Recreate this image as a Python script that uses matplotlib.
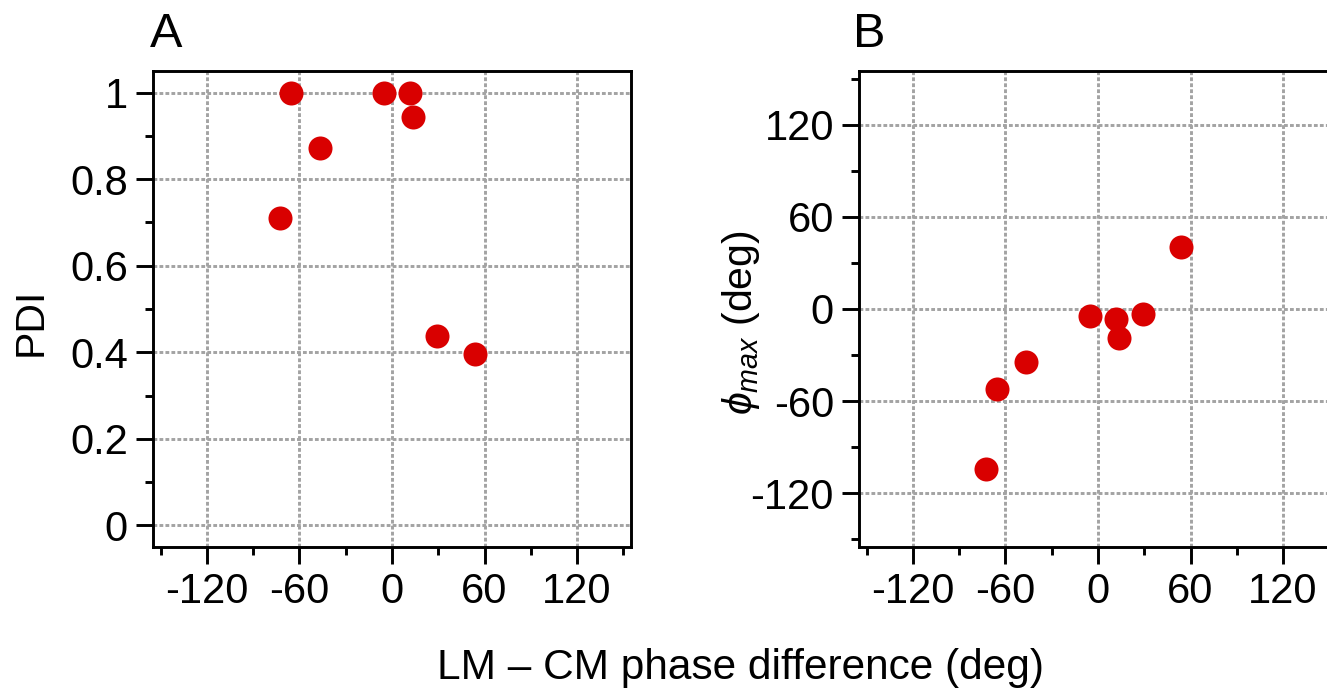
import matplotlib
matplotlib.use("Agg")
import matplotlib.pyplot as plt
from matplotlib.ticker import FixedLocator

plt.rcParams['font.family'] = ['Liberation Sans', 'DejaVu Sans']
plt.rcParams['mathtext.fontset'] = 'custom'
plt.rcParams['mathtext.rm'] = 'Liberation Sans'
plt.rcParams['mathtext.it'] = 'Liberation Sans:italic'

# Data
phase_diff = [-72.8, -65.6, -46.9, -5.4, 11.9, 13.8, 29.3, 53.6]
pdi = [0.71, 1.0, 0.871, 1.0, 1.0, 0.944, 0.438, 0.395]
phi_max = [-104.3, -52.2, -34.6, -4.8, -6.5, -18.9, -3.3, 40.2]

x_ticks = [-120, -60, 0, 60, 120]
x_ticklabels = ['-120', '-60', '0', '60', '120']
x_minor = [-150, -90, -30, 30, 90, 150]
pdi_ticks = [0, 0.2, 0.4, 0.6, 0.8, 1.0]
pdi_ticklabels = ['0', '0.2', '0.4', '0.6', '0.8', '1']
pdi_minor = [0.1, 0.3, 0.5, 0.7, 0.9]
phi_ticks = [-120, -60, 0, 60, 120]
phi_ticklabels = ['-120', '-60', '0', '60', '120']
phi_minor = [-150, -90, -30, 30, 90, 150]

W, H = 1327, 693
fig = plt.figure(figsize=(W / 100, H / 100), dpi=100)

red = '#d90000'
fs_tick = 30
fs_label = 29.5

def style(ax):
    for s in ax.spines.values():
        s.set_linewidth(2.1)
    ax.tick_params(which='major', direction='out', length=12, width=2.1,
                   labelsize=fs_tick, pad=6)
    ax.tick_params(which='minor', direction='out', length=6, width=2.1)
    ax.grid(True, which='major', color='#a3a3a3', linestyle=(0, (1.3, 0.75)),
            linewidth=2.1)
    ax.set_axisbelow(True)

left_a, right_a = 153, 631
top, bottom = 71, 547
axA = fig.add_axes([left_a / W, (H - bottom) / H, (right_a - left_a) / W, (bottom - top) / H])
left_b = 859
axB = fig.add_axes([left_b / W, (H - bottom) / H, (right_a - left_a) / W, (bottom - top) / H])

# Panel A
axA.plot(phase_diff, pdi, 'o', color=red, markersize=17.3, markeredgewidth=0, zorder=3)
axA.set_xlim(-155, 155)
axA.set_ylim(-0.05, 1.05)
axA.set_xticks(x_ticks)
axA.set_xticklabels(x_ticklabels)
axA.xaxis.set_minor_locator(FixedLocator(x_minor))
axA.set_yticks(pdi_ticks)
axA.set_yticklabels(pdi_ticklabels)
axA.yaxis.set_minor_locator(FixedLocator(pdi_minor))
style(axA)

# Panel B
axB.plot(phase_diff, phi_max, 'o', color=red, markersize=17.3, markeredgewidth=0, zorder=3)
axB.set_xlim(-155, 155)
axB.set_ylim(-155, 155)
axB.set_xticks(x_ticks)
axB.set_xticklabels(x_ticklabels)
axB.xaxis.set_minor_locator(FixedLocator(x_minor))
axB.set_yticks(phi_ticks)
axB.set_yticklabels(phi_ticklabels)
axB.yaxis.set_minor_locator(FixedLocator(phi_minor))
style(axB)

fig.text(30.5 / W, 1 - 322 / H, 'PDI', fontsize=fs_label, rotation=90,
         ha='center', va='center')
fig.text(741 / W, 1 - 323 / H, r'$\phi_{max}$ (deg)', fontsize=fs_label, rotation=90,
         ha='center', va='center')

fig.text(150 / W, 1 - 46.7 / H, 'A', fontsize=35, ha='left', va='baseline')
fig.text(853 / W, 1 - 46.7 / H, 'B', fontsize=35, ha='left', va='baseline')
fig.text(741 / W, 1 - 668 / H, 'LM \u2013 CM phase difference (deg)', fontsize=30.5,
         ha='center', va='center')

fig.savefig('out.png', dpi=100)
